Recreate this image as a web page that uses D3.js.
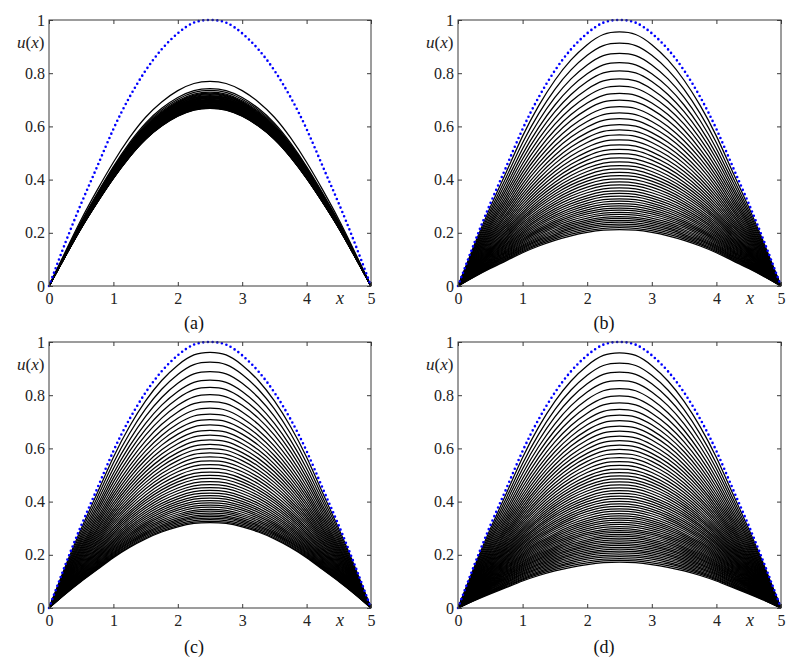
<!DOCTYPE html>
<html><head><meta charset="utf-8">
<script src="https://cdn.jsdelivr.net/npm/d3@7"></script>
<style>body{margin:0;background:#fff}svg{display:block}
text{font-family:"Liberation Serif","Times New Roman",Times,"DejaVu Serif","Noto Serif",serif}</style>
</head><body><svg id="c" width="798" height="658"></svg>
<script>
// ---------- data ----------
const xTicks = [0, 1, 2, 3, 4, 5];
const xTickLabels = ["0", "1", "2", "3", "4", "5"];
const yTicks = [0, 0.2, 0.4, 0.6, 0.8, 1];
const yTickLabels = ["0", "0.2", "0.4", "0.6", "0.8", "1"];
const captions = ["(a)", "(b)", "(c)", "(d)"];

// x sample positions of the curves
const xSamples = [0, 0.25, 0.5, 0.75, 1, 1.25, 1.5, 1.75, 2, 2.25, 2.5, 2.75, 3, 3.25, 3.5, 3.75, 4, 4.25, 4.5, 4.75, 5];
// blue dotted curve u(x) (peak 1 at x = 2.5)
const initialCurve = [0, 0.16, 0.31, 0.45, 0.59, 0.71, 0.81, 0.89, 0.95, 0.99, 1.0, 0.99, 0.95, 0.89, 0.81, 0.71, 0.59, 0.45, 0.31, 0.16, 0];
// normalised shape of the black curves (panel a is slightly more pointed)
const shapeA = [0, 0.165, 0.325, 0.47, 0.605, 0.725, 0.825, 0.90, 0.955, 0.99, 1.0, 0.99, 0.955, 0.90, 0.825, 0.725, 0.605, 0.47, 0.325, 0.165, 0];
const shapeBCD = [0, 0.16, 0.31, 0.45, 0.59, 0.71, 0.81, 0.89, 0.95, 0.99, 1.0, 0.99, 0.95, 0.89, 0.81, 0.71, 0.59, 0.45, 0.31, 0.16, 0];

// peak heights of the black curves in each panel
const peaksA = [0.769, 0.742, 0.735, 0.729, 0.725, 0.722, 0.719, 0.716, 0.714, 0.712, 0.710, 0.708, 0.706, 0.704, 0.702, 0.700, 0.698, 0.697, 0.695, 0.694, 0.692, 0.691, 0.689, 0.688, 0.686, 0.685, 0.684, 0.682, 0.681, 0.680, 0.679, 0.678, 0.677, 0.676, 0.675, 0.674, 0.673, 0.672, 0.671, 0.670, 0.669, 0.668];
const peaksB = [0.955, 0.913, 0.875, 0.840, 0.809, 0.779, 0.751, 0.724, 0.699, 0.674, 0.651, 0.629, 0.607, 0.587, 0.568, 0.549, 0.531, 0.514, 0.498, 0.482, 0.467, 0.453, 0.440, 0.427, 0.415, 0.403, 0.391, 0.380, 0.369, 0.358, 0.348, 0.338, 0.328, 0.319, 0.310, 0.301, 0.293, 0.285, 0.277, 0.269, 0.261, 0.254, 0.247, 0.240, 0.233, 0.226, 0.219, 0.212];
const peaksC = [0.961, 0.924, 0.889, 0.857, 0.829, 0.802, 0.776, 0.751, 0.729, 0.708, 0.688, 0.668, 0.650, 0.632, 0.615, 0.599, 0.583, 0.568, 0.553, 0.539, 0.525, 0.511, 0.499, 0.487, 0.475, 0.464, 0.453, 0.442, 0.432, 0.422, 0.413, 0.404, 0.395, 0.387, 0.379, 0.371, 0.364, 0.357, 0.350, 0.344, 0.338, 0.332, 0.326, 0.321];
const peaksD = [0.959, 0.921, 0.887, 0.855, 0.825, 0.797, 0.771, 0.747, 0.725, 0.704, 0.684, 0.665, 0.646, 0.629, 0.612, 0.596, 0.580, 0.565, 0.550, 0.536, 0.522, 0.509, 0.497, 0.485, 0.474, 0.463, 0.452, 0.441, 0.431, 0.421, 0.411, 0.401, 0.391, 0.382, 0.373, 0.364, 0.355, 0.346, 0.338, 0.330, 0.322, 0.314, 0.306, 0.298, 0.291, 0.284, 0.277, 0.270, 0.263, 0.256, 0.249, 0.242, 0.235, 0.228, 0.221, 0.214, 0.207, 0.200, 0.193, 0.186, 0.179, 0.172];

// ---------- layout ----------
const panels = [
  {peaks: peaksA, shape: shapeA,   l: 49,  r: 371, t: 20,  b: 286, cx: 194, cy: 329},
  {peaks: peaksB, shape: shapeBCD, l: 458, r: 781, t: 20,  b: 286, cx: 604, cy: 329},
  {peaks: peaksC, shape: shapeBCD, l: 49,  r: 371, t: 342, b: 608, cx: 194, cy: 653},
  {peaks: peaksD, shape: shapeBCD, l: 458, r: 781, t: 342, b: 608, cx: 604, cy: 653}
];

const svg = d3.select("#c");
const axisColor = "#3a3a3a";

panels.forEach((p, i) => {
  const x = d3.scaleLinear().domain([0, 5]).range([p.l, p.r]);
  const y = d3.scaleLinear().domain([0, 1]).range([p.b, p.t]);
  const g = svg.append("g");

  const clipId = "clip" + i;
  g.append("clipPath").attr("id", clipId).append("rect")
    .attr("x", p.l).attr("y", p.t - 4).attr("width", p.r - p.l).attr("height", p.b - p.t + 4);

  const line = d3.line().x(d => x(d[0])).y(d => y(d[1])).curve(d3.curveNatural);

  const plot = g.append("g").attr("clip-path", `url(#${clipId})`);
  plot.selectAll("path.sol").data(p.peaks).join("path")
    .attr("class", "sol")
    .attr("d", a => line(xSamples.map((xv, k) => [xv, a * p.shape[k]])))
    .attr("fill", "none").attr("stroke", "#000").attr("stroke-width", 1.25);

  g.append("path")
    .attr("d", line(xSamples.map((xv, k) => [xv, initialCurve[k]])))
    .attr("fill", "none").attr("stroke", "#0000ff").attr("stroke-width", 2.6)
    .attr("stroke-linecap", "round").attr("stroke-dasharray", "0 4.7");

  // axes (ticks pointing inwards)
  const ax = g.append("g").attr("transform", `translate(0,${p.b})`)
    .call(d3.axisBottom(x).tickValues(xTicks).tickFormat((d, k) => xTickLabels[k]).tickSize(-4).tickPadding(7));
  const ay = g.append("g").attr("transform", `translate(${p.l},0)`)
    .call(d3.axisLeft(y).tickValues(yTicks).tickFormat((d, k) => yTickLabels[k]).tickSize(-4).tickPadding(4));
  const at = g.append("g").attr("transform", `translate(0,${p.t})`)
    .call(d3.axisTop(x).tickValues(xTicks).tickFormat("").tickSize(-4));
  const ar = g.append("g").attr("transform", `translate(${p.r},0)`)
    .call(d3.axisRight(y).tickValues(yTicks).tickFormat("").tickSize(-4));
  [ax, ay, at, ar].forEach(a => {
    a.select(".domain").remove();
    a.attr("font-family", null);
    a.selectAll("line").attr("stroke", axisColor);
    a.selectAll("text").attr("font-size", 16).attr("fill", "#222");
  });
  g.append("rect").attr("x", p.l).attr("y", p.t).attr("width", p.r - p.l).attr("height", p.b - p.t)
    .attr("fill", "none").attr("stroke", axisColor).attr("stroke-width", 1);

  // axis labels
  g.append("text").attr("x", x(4.52)).attr("y", p.b + 18)
    .attr("font-style", "italic").attr("font-size", 18)
    .attr("text-anchor", "middle").attr("fill", "#222").text("x");
  const ul = g.append("text").attr("x", p.l - 32).attr("y", p.t + 28)
    .attr("font-size", 17).attr("fill", "#222");
  ul.append("tspan").attr("font-style", "italic").text("u");
  ul.append("tspan").text("(");
  ul.append("tspan").attr("font-style", "italic").text("x");
  ul.append("tspan").text(")");

  // caption
  g.append("text").attr("x", p.cx).attr("y", p.cy)
    .attr("font-size", 18).attr("text-anchor", "middle")
    .attr("fill", "#111").text(captions[i]);
});
</script>
</body></html>
